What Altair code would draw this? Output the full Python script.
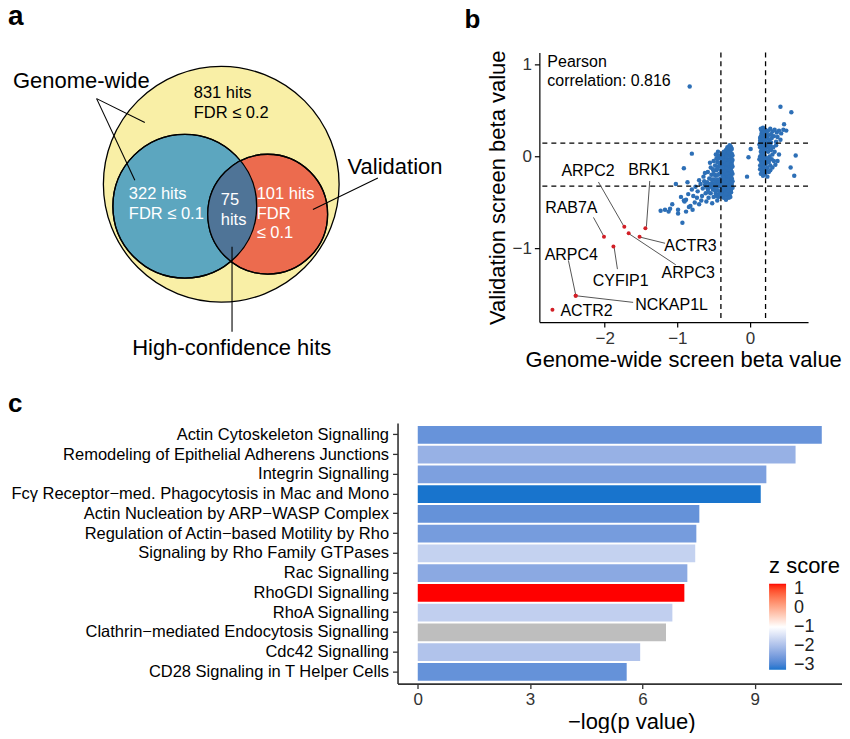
import altair as alt
import pandas as pd
import numpy as np

FONT = "Liberation Sans"

# ---------------- Panel a: Venn diagram texts ----------------
venn_left_texts = ["Genome-wide", "831 hits", "FDR ≤ 0.2", "322 hits", "FDR ≤ 0.1",
                   "75", "hits", "101 hits", "FDR", "≤ 0.1", "Validation"]
venn_center_texts = ["High-confidence hits"]

# ---------------- Panel b: screen beta values ----------------
screen_points = [
    # dense band left cluster
    (-0.26, 0.10), (-0.28, 0.12), (-0.30, 0.08), (-0.27, 0.05), (-0.32, 0.04), (-0.29, 0.02), (-0.26, -0.01),
    (-0.34, 0.01), (-0.31, -0.03), (-0.28, -0.04), (-0.25, -0.06), (-0.36, -0.02), (-0.33, -0.06), (-0.30, -0.08),
    (-0.27, -0.09), (-0.38, -0.05), (-0.35, -0.09), (-0.32, -0.11), (-0.29, -0.12), (-0.26, -0.13), (-0.39, -0.10),
    (-0.37, -0.13), (-0.34, -0.14), (-0.31, -0.15), (-0.28, -0.16), (-0.25, -0.17), (-0.40, -0.15), (-0.36, -0.17),
    (-0.33, -0.18), (-0.30, -0.19), (-0.27, -0.20), (-0.38, -0.20), (-0.35, -0.22), (-0.32, -0.23), (-0.29, -0.24),
    (-0.26, -0.25), (-0.40, -0.24), (-0.37, -0.26), (-0.34, -0.27), (-0.31, -0.28), (-0.28, -0.29), (-0.25, -0.30),
    (-0.39, -0.29), (-0.36, -0.31), (-0.33, -0.32), (-0.30, -0.33), (-0.27, -0.34), (-0.38, -0.35), (-0.35, -0.36),
    (-0.32, -0.37), (-0.29, -0.38), (-0.26, -0.39), (-0.37, -0.40), (-0.34, -0.41), (-0.31, -0.43), (-0.28, -0.42),
    (-0.36, -0.45), (-0.33, -0.47), (-0.40, -0.43), (-0.30, 0.06), (-0.27, 0.00), (-0.33, -0.01), (-0.29, -0.07),
    (-0.35, -0.12), (-0.31, -0.21), (-0.27, -0.26), (-0.35, -0.28), (-0.32, -0.34), (-0.29, -0.31), (-0.26, -0.22),
    (-0.28, -0.10), (-0.30, -0.14), (-0.33, -0.25), (-0.37, -0.22), (-0.39, -0.38), (-0.24, -0.04), (-0.24, -0.11),
    (-0.24, -0.19), (-0.24, -0.27), (-0.25, 0.03), (-0.31, 0.10), (-0.28, 0.07), (-0.35, 0.03), (-0.38, -0.01),
    (-0.37, -0.08), (-0.34, -0.19), (-0.30, -0.26), (-0.27, -0.36), (-0.34, -0.38), (-0.30, -0.40),
    (-0.25, 0.08), (-0.27, 0.11), (-0.29, 0.09), (-0.33, 0.07), (-0.36, 0.05), (-0.39, 0.02), (-0.25, -0.09),
    (-0.26, -0.16), (-0.27, -0.23), (-0.25, -0.33), (-0.26, -0.36), (-0.28, -0.33), (-0.29, -0.28), (-0.31, -0.25),
    (-0.32, -0.19), (-0.33, -0.13), (-0.34, -0.08), (-0.36, -0.05), (-0.31, -0.08), (-0.32, -0.29), (-0.36, -0.35),
    (-0.38, -0.31), (-0.39, -0.18), (-0.38, -0.12), (-0.40, -0.07), (-0.40, -0.33), (-0.37, -0.44), (-0.35, -0.42),
    (-0.33, -0.40), (-0.29, -0.45), (-0.27, -0.44), (-0.30, -0.37), (-0.28, -0.22), (-0.26, -0.29), (-0.24, -0.34),
    (-0.25, -0.24), (-0.24, 0.01), (-0.29, 0.04), (-0.32, 0.00), (-0.35, -0.16), (-0.36, -0.24), (-0.34, -0.31),
    # spread of left cluster
    (-0.42, -0.02), (-0.45, -0.06), (-0.43, -0.11), (-0.48, -0.10), (-0.46, -0.15), (-0.42, -0.19), (-0.50, -0.16),
    (-0.47, -0.21), (-0.44, -0.25), (-0.53, -0.20), (-0.50, -0.25), (-0.46, -0.29), (-0.42, -0.32), (-0.56, -0.24),
    (-0.52, -0.29), (-0.48, -0.33), (-0.44, -0.37), (-0.59, -0.28), (-0.55, -0.33), (-0.51, -0.36), (-0.47, -0.40),
    (-0.43, -0.44), (-0.62, -0.31), (-0.58, -0.36), (-0.54, -0.40), (-0.50, -0.44), (-0.45, -0.48), (-0.65, -0.35),
    (-0.61, -0.40), (-0.57, -0.45), (-0.68, -0.30), (-0.72, -0.38), (-0.66, -0.43), (-0.60, -0.49), (-0.75, -0.33),
    (-0.70, -0.26), (-0.64, -0.22), (-0.58, -0.17), (-0.54, -0.12), (-0.50, -0.05), (-0.47, 0.02), (-0.44, 0.05),
    (-0.55, -0.07), (-0.62, -0.18), (-0.49, -0.20), (-0.41, -0.08), (-0.41, -0.26), (-0.41, -0.40), (-0.52, -0.51),
    (-0.80, -0.36), (-0.78, -0.43), (-0.85, -0.41), (-0.88, -0.47), (-0.76, -0.50), (-0.70, -0.52), (-0.82, -0.54),
    (-0.91, -0.48), (-0.95, -0.44), (-0.73, -0.45), (-0.67, -0.48),
    (-0.43, -0.07), (-0.45, -0.13), (-0.44, -0.20), (-0.47, -0.26), (-0.45, -0.33), (-0.43, -0.28), (-0.49, -0.30),
    (-0.52, -0.33), (-0.53, -0.25), (-0.48, -0.37), (-0.46, -0.43), (-0.42, -0.41), (-0.56, -0.30), (-0.57, -0.39),
    (-0.63, -0.27), (-0.60, -0.33), (-0.51, -0.14), (-0.46, -0.02), (-0.43, 0.01),
    # tail and outliers
    (-0.80, 0.03), (-0.91, -0.13), (-1.02, -0.30), (-0.90, -0.49), (-0.93, -0.72), (-0.99, -0.58), (-0.99, -0.62),
    (-1.07, -0.52), (-1.12, -0.60), (-1.17, -0.58), (-1.23, -0.59), (-0.84, -0.55), (-0.88, -0.60), (-0.79, -0.58),
    (-0.83, 0.76), (-0.86, -0.28), (-1.10, -0.57),
    # right cluster band
    (0.15, 0.30), (0.18, 0.31), (0.21, 0.29), (0.16, 0.25), (0.19, 0.24), (0.23, 0.26), (0.14, 0.20), (0.17, 0.19),
    (0.20, 0.21), (0.24, 0.20), (0.15, 0.15), (0.18, 0.14), (0.22, 0.16), (0.26, 0.15), (0.14, 0.10), (0.17, 0.09),
    (0.20, 0.11), (0.24, 0.10), (0.28, 0.12), (0.15, 0.05), (0.18, 0.04), (0.21, 0.06), (0.25, 0.05), (0.29, 0.07),
    (0.14, 0.00), (0.17, -0.01), (0.20, 0.01), (0.23, -0.02), (0.27, 0.00), (0.31, 0.02), (0.15, -0.05), (0.18, -0.06),
    (0.22, -0.04), (0.26, -0.06), (0.30, -0.03), (0.14, -0.10), (0.17, -0.11), (0.20, -0.09), (0.24, -0.12),
    (0.28, -0.10), (0.16, -0.15), (0.19, -0.16), (0.22, -0.14), (0.26, -0.17), (0.15, -0.19), (0.18, -0.21),
    (0.21, -0.19), (0.24, -0.22), (0.13, 0.13), (0.13, -0.03), (0.16, 0.12), (0.19, 0.07), (0.23, 0.13), (0.27, 0.18),
    (0.32, 0.10), (0.34, 0.05), (0.33, -0.05), (0.36, 0.12), (0.30, 0.20), (0.28, -0.15), (0.31, -0.12), (0.35, -0.09),
    (0.17, 0.27), (0.20, 0.17), (0.22, -0.08), (0.19, -0.03), (0.16, 0.02),
    (0.16, 0.28), (0.19, 0.27), (0.22, 0.23), (0.15, 0.22), (0.18, 0.18), (0.21, 0.14), (0.16, 0.08), (0.19, 0.12),
    (0.22, 0.09), (0.15, -0.02), (0.18, 0.00), (0.21, -0.06), (0.16, -0.08), (0.19, -0.13), (0.23, -0.16),
    (0.17, -0.17), (0.14, 0.17), (0.14, -0.14), (0.25, 0.23), (0.27, 0.08), (0.26, -0.02), (0.29, 0.15),
    # right cluster upper arm and outliers
    (0.25, 0.28), (0.28, 0.30), (0.31, 0.27), (0.34, 0.29), (0.37, 0.26), (0.40, 0.28), (0.43, 0.25), (0.46, 0.29),
    (0.50, 0.28), (0.33, 0.22), (0.38, 0.21), (0.42, 0.18), (0.29, 0.24), (0.36, 0.16),
    (0.42, 0.54), (0.57, 0.48), (0.47, 0.35), (0.01, 0.08), (-0.02, -0.01), (-0.04, -0.22), (0.63, 0.01),
    (0.56, -0.12), (0.61, -0.21), (0.38, -0.05), (0.40, 0.02),
]
genes = ["ACTR2", "NCKAP1L", "ARPC4", "RAB7A", "CYFIP1", "ARPC2", "ARPC3", "ACTR3", "BRK1"]
gene_gw = [-2.72, -2.40, -2.40, -2.01, -1.88, -1.73, -1.67, -1.52, -1.44]
gene_val = [-1.665, -1.514, -1.514, -0.872, -0.98, -0.764, -0.836, -0.872, -0.782]
label_gw = [-2.25, -1.08, -2.46, -2.46, -1.78, -2.23, -0.85, -0.82, -1.39]
label_val = [-1.683, -1.611, -1.07, -0.566, -1.359, -0.159, -1.268, -0.973, -0.15]
leader_from_gw = [None, -2.397, -2.50, -2.155, -1.87, -2.087, -1.674, -1.503, -1.38]
leader_from_val = [None, -1.514, -1.13, -0.663, -0.99, -0.278, -0.836, -0.879, -0.267]
leader_to_gw = [None, -1.609, -2.40, -2.022, -1.825, -1.733, -1.022, -1.169, -1.426]
leader_to_val = [None, -1.586, -1.503, -0.854, -1.225, -0.764, -1.178, -0.944, -0.764]
gw_thresholds = [-0.40, 0.215]
val_thresholds = [0.144, -0.324]
pearson_lines = ["Pearson", "correlation: 0.816"]

# ---------------- Panel c: pathways ----------------
pathways = ["Actin Cytoskeleton Signalling", "Remodeling of Epithelial Adherens Junctions",
            "Integrin Signalling", "Fcγ Receptor−med. Phagocytosis in Mac and Mono",
            "Actin Nucleation by ARP−WASP Complex", "Regulation of Actin−based Motility by Rho",
            "Signaling by Rho Family GTPases", "Rac Signalling", "RhoGDI Signalling", "RhoA Signalling",
            "Clathrin−mediated Endocytosis Signalling", "Cdc42 Signalling", "CD28 Signaling in T Helper Cells"]
neglogp = [10.79, 10.09, 9.31, 9.16, 7.52, 7.44, 7.41, 7.20, 7.12, 6.80, 6.63, 5.94, 5.58]
zscores = [-2.73, -2.23, -2.51, -3.27, -2.75, -2.58, -1.70, -2.36, 1.30, -1.74, None, -1.93, -2.75]

# =====================================================================
# Panel a (pixel-like coordinates: 1 unit = 1 px; the plot area is a narrow strip
# aligned with panel c's plot, the diagram is drawn to its left)
AX = alt.Scale(domain=[398, 448], nice=False, zero=False)
AY = alt.Scale(domain=[52, 380], nice=False, zero=False, reverse=True)


def ax_(f):
    return alt.X(f, type="quantitative", scale=AX, axis=None)


def ay_(f):
    return alt.Y(f, type="quantitative", scale=AY, axis=None)


circles = pd.DataFrame({
    "cx": [221.5, 185.0, 268.0],
    "cy": [184.0, 206.0, 214.0],
    "r": [118.0, 72.0, 60.0],
    "fill": ["#F9EFA6", "#5CA6BF", "#EC6B4E"],
})
circles["s"] = (2 * circles["r"]) ** 2

# lens (overlap) outline from the two circle geometries
c1 = circles.iloc[1]
c2 = circles.iloc[2]
dx, dy = c2.cx - c1.cx, c2.cy - c1.cy
d = np.hypot(dx, dy)
a_ = (d ** 2 + c1.r ** 2 - c2.r ** 2) / (2 * d)
al1 = np.arccos(a_ / c1.r)
al2 = np.arccos((d - a_) / c2.r)
p12 = np.arctan2(dy, dx)
p21 = p12 + np.pi
t1 = np.linspace(p12 - al1, p12 + al1, 60)
t2 = np.linspace(p21 - al2, p21 + al2, 60)
lx = np.concatenate([c1.cx + c1.r * np.cos(t1), c2.cx + c2.r * np.cos(t2)])
ly = np.concatenate([c1.cy + c1.r * np.sin(t1), c2.cy + c2.r * np.sin(t2)])
lens = pd.DataFrame({"x": lx, "y": ly, "i": np.arange(len(lx))})

venn_fill = alt.Chart(circles).mark_circle(stroke="black", strokeWidth=1.3, opacity=1).encode(
    x=ax_("cx"), y=ay_("cy"), size=alt.Size("s:Q", scale=None), fill=alt.Fill("fill:N", scale=None))
lens_layer = alt.Chart(lens).mark_line(fill="#4F7497", strokeWidth=0, interpolate="linear").encode(
    x=ax_("x"), y=ay_("y"), order="i:Q")
venn_outline = alt.Chart(circles.iloc[1:]).mark_point(filled=False, color="black", strokeWidth=1.3,
                                                      opacity=1, shape="circle").encode(
    x=ax_("cx"), y=ay_("cy"), size=alt.Size("s:Q", scale=None))

left_text = pd.DataFrame({
    "t": venn_left_texts,
    "x": [13, 194, 194, 129, 129, 221, 221, 257, 257, 257, 348],
    "y": [81, 93, 113, 194, 214, 200, 220, 194, 214, 233, 167],
    "col": ["black", "black", "black", "white", "white", "white", "white", "white", "white", "white", "black"],
    "fs": [22, 16.5, 16.5, 16.5, 16.5, 16.5, 16.5, 16.5, 16.5, 16.5, 22],
})
venn_left = alt.Chart(left_text).mark_text(align="left", baseline="middle", font=FONT).encode(
    x=ax_("x"), y=ay_("y"), text="t:N", color=alt.Color("col:N", scale=None), size=alt.Size("fs:Q", scale=None))
center_text = pd.DataFrame({"t": venn_center_texts, "x": [232], "y": [348]})
venn_center = alt.Chart(center_text).mark_text(align="center", baseline="middle", font=FONT, fontSize=22,
                                               color="black").encode(x=ax_("x"), y=ay_("y"), text="t:N")
venn_lines = pd.DataFrame({
    "x": [96.7, 96.7, 378.3, 232.3],
    "y": [98.3, 98.3, 177.7, 246.7],
    "x2": [145.0, 135.0, 313.3, 232.3],
    "y2": [122.3, 180.0, 209.3, 331.7],
})
venn_rule = alt.Chart(venn_lines).mark_rule(color="black", strokeWidth=1.1).encode(
    x=ax_("x"), y=ay_("y"), x2="x2:Q", y2="y2:Q")
a_label = alt.Chart(pd.DataFrame({"t": ["a"], "x": [8], "y": [25]})).mark_text(
    align="left", baseline="alphabetic", fontSize=28, fontWeight="bold", font=FONT, color="black").encode(
    x=ax_("x"), y=ay_("y"), text="t:N")

panel_a = alt.layer(venn_fill, lens_layer, venn_outline, venn_rule, venn_left, venn_center, a_label).properties(
    width=50, height=328)

# =====================================================================
# Panel b
XS = alt.Scale(domain=[-2.9, 0.8], nice=False, zero=False)
YS = alt.Scale(domain=[-1.8, 1.13], nice=False, zero=False)
axb = dict(domainColor="black", domainWidth=1.2, tickColor="black", tickSize=5, tickWidth=1.2,
           labelFontSize=17, labelColor="#333333", titleFontSize=22, titleFontWeight="normal",
           titleColor="black", grid=False, labelPadding=3, labelFont=FONT, titleFont=FONT)
xaxis_b = alt.Axis(values=[-2, -1, 0], title="Genome-wide screen beta value", titlePadding=3, titleX=144, **axb)
yaxis_b = alt.Axis(values=[-1, 0, 1], title="Validation screen beta value", titlePadding=3, **axb)


def bx(f):
    return alt.X(f, type="quantitative", scale=XS, axis=xaxis_b)


def by(f):
    return alt.Y(f, type="quantitative", scale=YS, axis=yaxis_b)


pts = pd.DataFrame(screen_points, columns=["gw", "val"])
scatter = alt.Chart(pts).mark_circle(size=20, color="#2D6FB6", opacity=1).encode(x=bx("gw"), y=by("val"))
vdash = alt.Chart(pd.DataFrame({"v": gw_thresholds})).mark_rule(
    color="black", strokeDash=[5, 4], strokeWidth=1.3).encode(x=bx("v"))
hdash = alt.Chart(pd.DataFrame({"h": val_thresholds})).mark_rule(
    color="black", strokeDash=[5, 4], strokeWidth=1.3).encode(y=by("h"))
gdf = pd.DataFrame({"gene": genes, "gw": gene_gw, "val": gene_val, "lgw": label_gw, "lval": label_val,
                    "fgw": leader_from_gw, "fval": leader_from_val, "tgw": leader_to_gw, "tval": leader_to_val})
leaders = alt.Chart(gdf.dropna()).mark_rule(color="#555555", strokeWidth=1).encode(
    x=bx("fgw"), y=by("fval"), x2="tgw:Q", y2="tval:Q")
redpts = alt.Chart(gdf).mark_circle(size=16, color="#D21F26", opacity=1).encode(x=bx("gw"), y=by("val"))
glabels = alt.Chart(gdf).mark_text(fontSize=16, font=FONT, color="black", baseline="middle").encode(
    x=bx("lgw"), y=by("lval"), text="gene:N")
pdf = pd.DataFrame({"t": pearson_lines, "x": [-2.79, -2.79], "y": [1.027, 0.822]})
pearson = alt.Chart(pdf).mark_text(fontSize=16, font=FONT, color="black", align="left", baseline="middle").encode(
    x=bx("x"), y=by("y"), text="t:N")
b_label = alt.Chart(pd.DataFrame({"t": ["b"]})).mark_text(
    align="left", baseline="top", fontSize=26, fontWeight="bold", font=FONT, color="black").encode(
    x=alt.value(-75), y=alt.value(-45), text="t:N")

panel_b = alt.layer(scatter, vdash, hdash, leaders, redpts, glabels, pearson, b_label).properties(
    width=269, height=270)

# =====================================================================
# Panel c
cdf = pd.DataFrame({"pathway": pathways, "p": neglogp, "z": zscores})
zscale = alt.Scale(domain=[-3.27, -1, 1.30], range=["#1874CD", "#FFFFFF", "#FF0000"], interpolate="lab")
CY = alt.Scale(domain=pathways, paddingInner=0.1, paddingOuter=0.15)
CX = alt.Scale(domain=[-0.54, 11.33], nice=False)
yaxis_c = alt.Axis(title=None, labelFontSize=16.5, labelColor="black", labelLimit=600, tickSize=5,
                   tickColor="#333333", tickWidth=1.3, domainColor="#333333", domainWidth=1.6,
                   labelPadding=4, labelFont=FONT, grid=False)
xaxis_c = alt.Axis(values=[0, 3, 6, 9], title="−log(p value)", labelFontSize=17, labelColor="#333333",
                   tickSize=5, tickColor="#333333", tickWidth=1.3, domainColor="#333333", domainWidth=1.6,
                   titleFontSize=22, titleFontWeight="normal", titleColor="black", titlePadding=4,
                   titleX=234, labelPadding=3, labelFont=FONT, titleFont=FONT, grid=False)
bars = alt.Chart(cdf).transform_filter("datum.z != null").mark_bar(opacity=1).encode(
    y=alt.Y("pathway:N", scale=CY, axis=yaxis_c),
    x=alt.X("p:Q", scale=CX, axis=xaxis_c),
    color=alt.Color("z:Q", scale=zscale,
                    legend=alt.Legend(title="z score", orient="none", legendX=372, legendY=133,
                                      direction="vertical", gradientLength=86, gradientThickness=17,
                                      values=[1, 0, -1, -2, -3], titleFontSize=22, titleFontWeight="normal",
                                      titleColor="black", titleFont=FONT, labelFont=FONT, labelFontSize=18,
                                      labelColor="#222222", titlePadding=6, labelOffset=8,
                                      gradientStrokeWidth=0)),
)
na_bars = alt.Chart(cdf).transform_filter("datum.z == null").mark_bar(opacity=1, color="#BEBEBE").encode(
    y=alt.Y("pathway:N", scale=CY, axis=yaxis_c),
    x=alt.X("p:Q", scale=CX, axis=xaxis_c),
)
c_label = alt.Chart(pd.DataFrame({"t": ["c"]})).mark_text(
    align="left", baseline="alphabetic", fontSize=26, fontWeight="bold", font=FONT, color="black").encode(
    x=alt.value(-390), y=alt.value(-11), text="t:N")

panel_c = alt.layer(bars, na_bars, c_label).properties(width=445, height=261)

top = alt.hconcat(panel_a, panel_b, spacing=17)
chart = alt.vconcat(top, panel_c, spacing=11).resolve_legend(color="independent").resolve_scale(
    color="independent").properties(
    padding={"left": 0, "top": -5, "right": 0, "bottom": 0}).configure(font=FONT).configure_view(stroke=None)

chart.save("out.html", embed_options={"renderer": "svg", "actions": False})
